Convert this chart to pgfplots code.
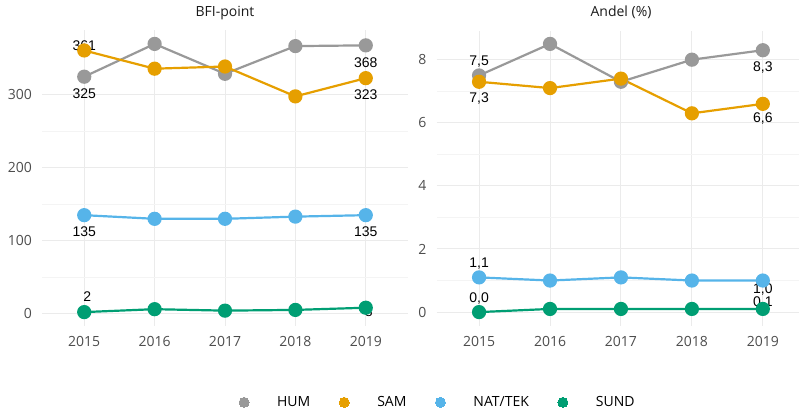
\documentclass[border=0pt]{standalone}
\usepackage{fontspec}
\setmainfont{Open Sans}
\newfontfamily\labfont{Liberation Sans}
\usepackage{pgfplots}
\pgfplotsset{compat=1.18}
\definecolor{hum}{HTML}{999999}
\definecolor{sam}{HTML}{E69F00}
\definecolor{nat}{HTML}{56B4E9}
\definecolor{sund}{HTML}{009E73}
\definecolor{gridmaj}{HTML}{EBEBEB}
\definecolor{gridmin}{HTML}{F4F4F4}
\definecolor{ticktext}{HTML}{4D4D4D}
\definecolor{titletext}{HTML}{1A1A1A}
\newcommand{\fs}{\fontsize{14}{16}\selectfont}
\newcommand{\lab}[4]{\node[font=\labfont\fs, inner sep=0pt, text=black, xshift=#3, yshift=#4] at (axis cs:#1) {#2};}
\pgfplotsset{
  panel/.style={
    scale only axis, height=295pt,
    axis line style={draw=none},
    major tick length=0pt, minor tick length=0pt,
    xmin=-0.6,
    xtick={0,1,2,3,4},
    xticklabels={2015,2016,2017,2018,2019},
    minor x tick num=0, minor y tick num=1,
    grid=both,
    major grid style={color=gridmaj, line width=1pt},
    minor grid style={color=gridmin, line width=0.7pt},
    tick label style={font=\fs, text=ticktext, inner sep=0pt},
    xticklabel style={anchor=north, yshift=-11pt},
    yticklabel style={anchor=east, xshift=-10pt},
    /pgf/number format/assume math mode=true,
    /pgf/number format/1000 sep={},
    clip=false,
    title style={anchor=base, yshift=7.6pt, font=\fs, text=titletext, inner sep=0pt},
    every axis plot/.append style={line width=2.2pt, mark=*, mark size=6pt},
  }
}
\begin{document}
\begin{tikzpicture}
\useasboundingbox (0pt,-409pt) rectangle (799pt,0pt);
% Left panel
\begin{axis}[panel, at={(42pt,-325.5pt)}, anchor=south west, width=366pt,
  xmax=4.6, ymin=-16.4, ymax=388.4, ytick={0,100,200,300},
  title={BFI-point},
  legend columns=4,
  legend style={at={(0.538,-0.2605)}, anchor=west, draw=none, fill=none, inner sep=0pt,
    font=\fs, text=black, nodes={inner sep=0pt},
    /tikz/every odd column/.style={column sep=28pt},
    /tikz/every even column/.style={column sep=29pt}},
]
\addlegendimage{only marks, mark=*, mark size=5pt, color=hum, line width=0pt}
\addlegendentry{HUM}
\addlegendimage{only marks, mark=*, mark size=5pt, color=sam, line width=0pt}
\addlegendentry{SAM}
\addlegendimage{only marks, mark=*, mark size=5pt, color=nat, line width=0pt}
\addlegendentry{NAT/TEK}
\addlegendimage{only marks, mark=*, mark size=5pt, color=sund, line width=0pt}
\addlegendentry{SUND}
\addplot[forget plot, color=hum, mark options={fill=hum, draw=none}] coordinates {(0,325) (1,370) (2,329) (3,367) (4,368)};
\addplot[forget plot, color=sam, mark options={fill=sam, draw=none}] coordinates {(0,361) (1,336) (2,339) (3,298) (4,323)};
\addplot[forget plot, color=nat, mark options={fill=nat, draw=none}] coordinates {(0,135) (1,130) (2,130) (3,133) (4,135)};
\addplot[forget plot, color=sund, mark options={fill=sund, draw=none}] coordinates {(0,2) (1,6) (2,4) (3,5) (4,8)};
\lab{0,361}{361}{0pt}{5pt}
\lab{0,325}{325}{0pt}{-17pt}
\lab{4,368}{368}{0pt}{-17pt}
\lab{4,323}{323}{0pt}{-17pt}
\lab{0,135}{135}{0pt}{-17pt}
\lab{4,135}{135}{0pt}{-17pt}
\lab{0,2}{2}{3pt}{15pt}
\lab{4,8}{8}{3pt}{-4pt}
\end{axis}
% Right panel
\begin{axis}[panel, at={(436.5pt,-325.5pt)}, anchor=south west, width=362.5pt,
  xmax=4.51, ymin=-0.425, ymax=8.925, ytick={0,2,4,6,8},
  title={Andel (\%)}, title style={at={(0.509,1)}},
]
\addplot[color=hum, mark options={fill=hum, draw=none}] coordinates {(0,7.5) (1,8.5) (2,7.3) (3,8.0) (4,8.3)};
\addplot[color=sam, mark options={fill=sam, draw=none}] coordinates {(0,7.3) (1,7.1) (2,7.4) (3,6.3) (4,6.6)};
\addplot[color=nat, mark options={fill=nat, draw=none}] coordinates {(0,1.1) (1,1.0) (2,1.1) (3,1.0) (4,1.0)};
\addplot[color=sund, mark options={fill=sund, draw=none}] coordinates {(0,0.0) (1,0.1) (2,0.1) (3,0.1) (4,0.1)};
\lab{0,7.5}{7,5}{0pt}{14pt}
\lab{0,7.3}{7,3}{0pt}{-17pt}
\lab{4,8.3}{8,3}{0pt}{-17pt}
\lab{4,6.6}{6,6}{0pt}{-15pt}
\lab{0,1.1}{1,1}{0pt}{14pt}
\lab{0,0.0}{0,0}{0pt}{14pt}
\lab{4,1.0}{1,0}{0pt}{-9pt}
\lab{4,0.1}{0,1}{0pt}{6pt}
\end{axis}
\end{tikzpicture}
\end{document}
